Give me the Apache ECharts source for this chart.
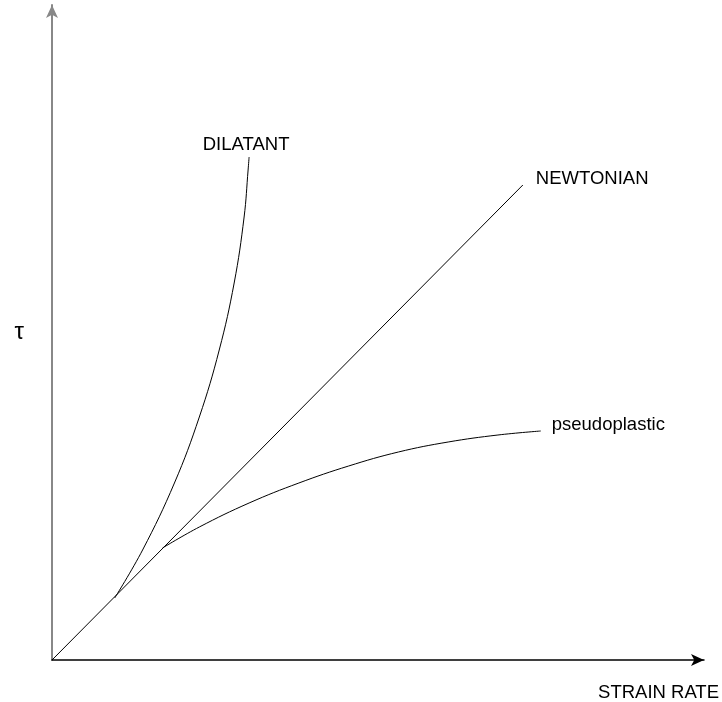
<!DOCTYPE html>
<html style="height: 100%">
   <head>
       <meta charset="utf-8">
   </head>
   <body style="height: 100%; margin: 0; background: #fff">
       <div id="container" style="width: 722px; height: 702px"></div>
       <script type="text/javascript" src="https://cdn.jsdelivr.net/npm/echarts@6/dist/echarts.min.js"></script>
       <script type="text/javascript">
// curve points (strain rate, shear stress)
// the two non-newtonian curves leave the straight line at their branch point
var newtonian = [[0, 0], [473, 475]];
var dilatant = [[63, 62], [91, 110], [123, 177], [148, 243], [168, 310],
                [183, 377], [193, 443], [197, 490], [198, 503]];
var pseudoplastic = [[111, 112], [148, 133], [198, 157], [248, 177], [298, 194],
                     [348, 208], [398, 218], [448, 225], [491, 229]];
var curveNames = ['NEWTONIAN', 'DILATANT', 'pseudoplastic'];

var dom = document.getElementById("container");
var myChart = echarts.init(dom);
var font = 'Liberation Sans';

function curve(name, data, smooth, endLabel) {
    return {
        name: name,
        type: 'line',
        data: data,
        smooth: smooth,
        showSymbol: false,
        silent: true,
        animation: false,
        lineStyle: { color: '#000', width: 1 },
        endLabel: endLabel
    };
}

var option = {
    animation: false,
    grid: { left: 52, right: 15, top: 5, bottom: 42 },
    xAxis: {
        type: 'value',
        min: 0,
        max: 655,
        name: 'STRAIN RATE',
        nameLocation: 'end',
        nameGap: 15,
        nameTextStyle: {
            fontFamily: font, fontSize: 18.5, color: '#000',
            align: 'right', verticalAlign: 'top', padding: [23, 0, 0, 0]
        },
        axisLine: {
            lineStyle: { color: '#000', width: 1.5 },
            symbol: ['none', 'arrow'],
            symbolSize: [9, 13]
        },
        axisTick: { show: false },
        axisLabel: { show: false },
        splitLine: { show: false }
    },
    yAxis: {
        type: 'value',
        min: 0,
        max: 655,
        name: 'τ',
        nameLocation: 'middle',
        nameRotate: 0,
        nameGap: 28,
        nameTextStyle: { fontFamily: font, fontSize: 24, color: '#000', padding: [0, 0, 4, 0] },
        axisLine: {
            lineStyle: { color: '#888', width: 2 },
            symbol: ['none', 'arrow'],
            symbolSize: [9, 13]
        },
        axisTick: { show: false },
        axisLabel: { show: false },
        splitLine: { show: false }
    },
    series: [
        curve(curveNames[0], newtonian, false, {
            show: true, formatter: curveNames[0], distance: 13, offset: [0, -6],
            fontFamily: font, fontSize: 18.5, color: '#000'
        }),
        curve(curveNames[1], dilatant, 0.4, {
            show: true, formatter: curveNames[1], align: 'center', distance: 0, offset: [-3, -12],
            fontFamily: font, fontSize: 18.5, color: '#000'
        }),
        curve(curveNames[2], pseudoplastic, 0.4, {
            show: true, formatter: curveNames[2], distance: 11, offset: [0, -6],
            fontFamily: font, fontSize: 18.5, color: '#000'
        })
    ]
};
myChart.setOption(option);
       </script>
   </body>
</html>
